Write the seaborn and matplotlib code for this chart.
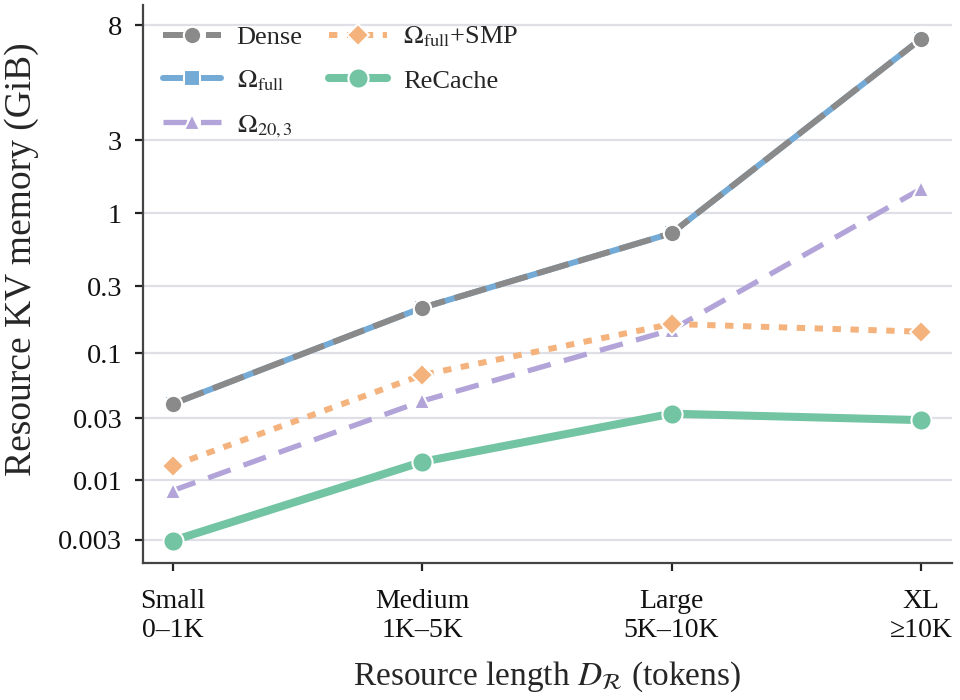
import numpy as np
import pandas as pd
import matplotlib
matplotlib.use("Agg")
import matplotlib.pyplot as plt
from matplotlib.scale import FuncScale
import seaborn as sns

# ---------------- data ----------------
categories = ["Small\n0–1K", "Medium\n1K–5K", "Large\n5K–10K", "XL\n≥10K"]
dense = [0.039, 0.21, 0.716, 7.1]
omega_full = [0.039, 0.21, 0.716, 7.1]
omega_20_3 = [0.0081, 0.0411, 0.146, 1.435]
omega_full_smp = [0.0129, 0.0666, 0.161, 0.142]
recache = [0.00296, 0.0138, 0.0325, 0.0289]

ytick_values = [0.003, 0.01, 0.03, 0.1, 0.3, 1, 3, 8]
ytick_labels = ["0.003", "0.01", "0.03", "0.1", "0.3", "1", "3", "8"]

# axis scale of the reference (tick value -> relative height on the axis)
scale_knot_values = [0.001, 0.003, 0.01, 0.03, 0.1, 0.3, 1, 3, 8, 30]
scale_knot_heights = [-54.7, 0, 60, 122, 187, 254, 327, 400, 515, 670]

# ---------------- style ----------------
sns.set_theme(style="ticks")
plt.rcParams["font.family"] = ["Liberation Serif", "DejaVu Serif"]
plt.rcParams["mathtext.fontset"] = "stix"

_kl = np.log10(scale_knot_values)
_kh = np.array(scale_knot_heights, dtype=float)


def fwd(v):
    v = np.asarray(v, dtype=float)
    return np.interp(np.log10(np.maximum(v, 1e-12)), _kl, _kh)


def inv(h):
    h = np.asarray(h, dtype=float)
    return 10 ** np.interp(h, _kh, _kl)


fig = plt.figure(figsize=(9.6, 7.0), dpi=100)
ax = fig.add_axes([143 / 960, 1 - 563 / 700, (952 - 143) / 960, (563 - 5) / 700])
ax.set_yscale(FuncScale(ax.yaxis, (fwd, inv)))

x = np.arange(len(categories))
series = [
    ("omega_full", r"$\Omega_{\mathrm{full}}$", omega_full, "#74aad6", "s", "-", 4.3, 11),
    ("dense", "Dense", dense, "#8a8a8a", "o", (0, (5.5, 1.7)), 4.3, 12.5),
    ("omega_20_3", r"$\Omega_{20,3}$", omega_20_3, "#b2a4d8", "^", (0, (4.5, 2.6)), 3.8, 12),
    ("omega_full_smp", r"$\Omega_{\mathrm{full}}$+SMP", omega_full_smp, "#f4b27c", "D", (0, (1.4, 1.6)), 4.3, 11),
    ("recache", "ReCache", recache, "#72c4a3", "o", "-", 5.8, 14.5),
]

handles = {}
for key, label, vals, color, marker, ls, lw, ms in series:
    df = pd.DataFrame({"x": x, "y": vals})
    sns.lineplot(data=df, x="x", y="y", ax=ax, color=color, marker=marker,
                 markersize=ms, markeredgecolor="white", markeredgewidth=1.5,
                 linestyle=ls, linewidth=lw, sort=False, label=label,
                 solid_capstyle="round", dash_capstyle="butt", legend=False)
    handles[key] = ax.get_lines()[-1]

ax.set_xlim(-0.12, 3.125)
ax.set_ylim(0.00189, 9.49)
ax.set_xticks(x)
ax.set_xticklabels(categories, fontsize=20, linespacing=1.2)
ax.set_yticks(ytick_values)
ax.set_yticklabels(ytick_labels, fontsize=20.5)
ax.yaxis.set_minor_locator(matplotlib.ticker.NullLocator())

ax.yaxis.grid(True, color="#dfdfe7", linewidth=1.6)
ax.xaxis.grid(False)
ax.set_axisbelow(True)

sns.despine(ax=ax)
for s in ["left", "bottom"]:
    ax.spines[s].set_color("#444444")
    ax.spines[s].set_linewidth(1.6)
ax.tick_params(axis="both", direction="out", length=6, width=1.6, color="#222222",
               labelcolor="#111111")
ax.tick_params(axis="x", pad=13)
ax.tick_params(axis="y", pad=9)

ax.set_ylabel("Resource KV memory (GiB)", fontsize=27)
ax.yaxis.set_label_coords(-0.128, 0.545)
ax.set_xlabel(r"Resource length $D_{\mathcal{R}}$ (tokens)", fontsize=24, labelpad=12)

order = ["dense", "omega_full", "omega_20_3", "omega_full_smp", "recache"]
labels = {k: l for k, l, *_ in series}
ax.legend([handles[k] for k in order], [labels[k] for k in order], ncol=2,
          loc="upper left", bbox_to_anchor=(0.0, 1.0), frameon=False,
          fontsize=19, handlelength=2.2, handletextpad=0.6, columnspacing=1.0,
          labelspacing=0.75, borderaxespad=0.35)

fig.savefig("out.png", dpi=100)
